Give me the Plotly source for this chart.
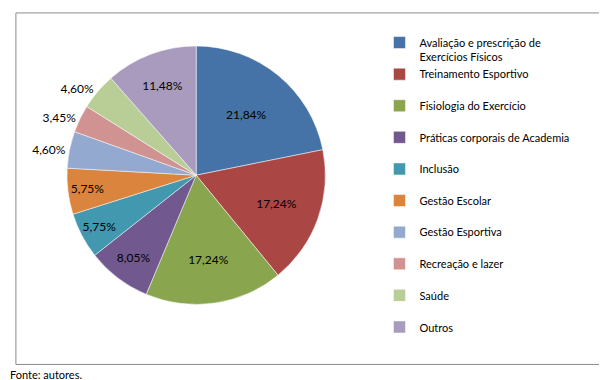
import plotly.graph_objects as go

categories = [
    "Avaliação e prescrição de<br>Exercícios Físicos",
    "Treinamento Esportivo<br> ",
    "Fisiologia do Exercício<br> ",
    "Práticas corporais de Academia<br> ",
    "Inclusão<br> ",
    "Gestão Escolar<br> ",
    "Gestão Esportiva<br> ",
    "Recreação e lazer<br> ",
    "Saúde<br> ",
    "Outros",
]
values = [21.84, 17.24, 17.24, 8.05, 5.75, 5.75, 4.60, 3.45, 4.60, 11.48]
colors = ["#4572A7", "#AA4643", "#89A54E", "#71588F", "#4198AF",
          "#DB843D", "#93A9CF", "#D19392", "#B9CD96", "#A99BBD"]
text_positions = ["inside"] * 6 + ["outside", "outside", "outside", "inside"]

fig = go.Figure(go.Pie(
    labels=categories,
    values=values,
    sort=False,
    direction="clockwise",
    rotation=0,
    marker=dict(colors=colors, line=dict(color="white", width=0.5)),
    texttemplate="%{value:.2f}%",
    textposition=text_positions,
    insidetextorientation="horizontal",
    textfont=dict(color="black", size=12),
    domain=dict(x=[0.09, 0.53], y=[0.22, 0.90]),
    automargin=False,
    showlegend=True,
))

fig.update_layout(
    width=607, height=380,
    margin=dict(l=0, r=0, t=0, b=0),
    paper_bgcolor="white",
    separators=",.",
    font=dict(family="Lato, 'Open Sans', sans-serif", size=12, color="black"),
    legend=dict(x=0.612, y=0.945, xanchor="left", yanchor="top",
                font=dict(size=11), valign="top", itemwidth=30,
                tracegroupgap=0),
    shapes=[dict(type="rect", xref="paper", yref="paper",
                 x0=0.013, x1=0.995, y0=0.062, y1=0.987,
                 line=dict(color="#8C8C8C", width=1))],
    annotations=[dict(text="Fonte: autores.", xref="paper", yref="paper",
                      x=0.0, y=0.012, xanchor="left", yanchor="bottom",
                      showarrow=False, font=dict(size=11))],
)

fig.write_html("out.html")
